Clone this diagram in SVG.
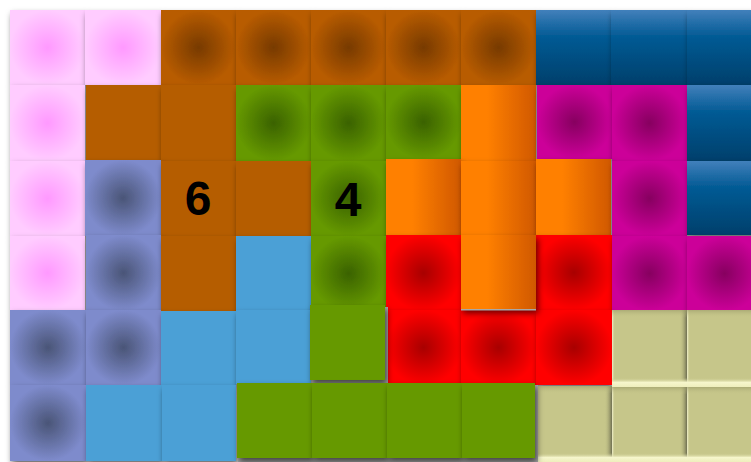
<svg xmlns="http://www.w3.org/2000/svg" width="751" height="462" viewBox="0 0 751 462">
<defs>
<radialGradient id="gPink"><stop offset="0" stop-color="#ff99ff"/><stop offset="1" stop-color="#ffccff"/></radialGradient>
<radialGradient id="gBrown"><stop offset="0" stop-color="#773a00"/><stop offset="1" stop-color="#b85c00"/></radialGradient>
<radialGradient id="gGreen"><stop offset="0" stop-color="#3a6200"/><stop offset="1" stop-color="#669900"/></radialGradient>
<radialGradient id="gMag"><stop offset="0" stop-color="#870060"/><stop offset="1" stop-color="#cc0099"/></radialGradient>
<radialGradient id="gSlate"><stop offset="0" stop-color="#4a5577"/><stop offset="1" stop-color="#7e8bcc"/></radialGradient>
<radialGradient id="gRed"><stop offset="0" stop-color="#a80000"/><stop offset="1" stop-color="#ff0000"/></radialGradient>
<linearGradient id="gBlue" x1="0" y1="0" x2="0" y2="1"><stop offset="0" stop-color="#4280bb"/><stop offset="0.35" stop-color="#035b95"/><stop offset="1" stop-color="#003f6b"/></linearGradient>
<linearGradient id="gOrange" x1="0" y1="0" x2="1" y2="0"><stop offset="0" stop-color="#ff8000"/><stop offset="0.35" stop-color="#ff8000"/><stop offset="1" stop-color="#d05800"/></linearGradient>
<linearGradient id="kSide" x1="0" y1="0" x2="1" y2="0"><stop offset="0" stop-color="#f4f4d0"/><stop offset="0.04" stop-color="#c6c68a" stop-opacity="0"/><stop offset="0.9" stop-color="#c6c68a" stop-opacity="0"/><stop offset="1" stop-color="#6e6e50"/></linearGradient>
<linearGradient id="kVert" x1="0" y1="0" x2="0" y2="1"><stop offset="0" stop-color="#9a9a68" stop-opacity="0.6"/><stop offset="0.1" stop-color="#c6c68a" stop-opacity="0"/><stop offset="0.88" stop-color="#c6c68a" stop-opacity="0"/><stop offset="0.94" stop-color="#f6f6cc"/><stop offset="1" stop-color="#eeeebc"/></linearGradient>
<filter id="sh" x="-20%" y="-20%" width="150%" height="150%"><feDropShadow dx="2" dy="4" stdDeviation="3" flood-color="#000" flood-opacity="0.6"/></filter>
</defs>
<style>
.c{filter:url(#sh)}
.pink{fill:url(#gPink)}
.brR{fill:url(#gBrown)}
.br{fill:#b55d05}
.grR{fill:url(#gGreen)}
.gr{fill:#669900}
.mag{fill:url(#gMag)}
.sl{fill:url(#gSlate)}
.red{fill:url(#gRed)}
.blue{fill:url(#gBlue)}
.or{fill:url(#gOrange)}
.lb{fill:#4ba0d6}
.kh{fill:#c6c68a}
.gray{fill:#a8a8a8}
.num{font-family:"Liberation Sans",Arial,sans-serif;font-weight:bold;font-size:48px;fill:#000;text-anchor:middle}
</style>
<rect width="751" height="462" fill="#fff"/>
<g id="row0">
<rect class="c pink" x="10" y="10" width="75" height="75"/>
<rect class="c pink" x="85" y="10" width="76" height="75"/>
<rect class="c brR" x="161" y="10" width="75" height="75"/>
<rect class="c brR" x="236" y="10" width="75" height="75"/>
<rect class="c brR" x="311" y="10" width="75" height="75"/>
<rect class="c brR" x="386" y="10" width="75" height="75"/>
<rect class="c brR" x="461" y="10" width="75" height="75"/>
<rect class="c blue" x="536" y="10" width="75" height="75"/>
<rect class="c blue" x="611" y="10" width="76" height="75"/>
<rect class="c blue" x="687" y="10" width="75" height="75"/>
</g>
<g id="row1">
<rect class="c pink" x="10" y="85" width="75" height="76"/>
<rect class="c br" x="86" y="85" width="75" height="76"/>
<rect class="c br" x="161" y="85" width="75" height="76"/>
<rect class="c grR" x="236" y="85" width="75" height="76"/>
<rect class="c grR" x="311" y="85" width="75" height="76"/>
<rect class="c grR" x="386" y="85" width="75" height="74"/>
<rect class="c or" x="461" y="85" width="75" height="76"/>
<rect class="c mag" x="537" y="85" width="75" height="74"/>
<rect class="c mag" x="612" y="85" width="75" height="76"/>
<rect class="c blue" x="687" y="85" width="75" height="76"/>
</g>
<g id="row2">
<rect class="c pink" x="10" y="161" width="75" height="75"/>
<rect class="c sl" x="85" y="160" width="76" height="76"/>
<rect class="c br" x="161" y="161" width="75" height="75"/>
<rect class="c br" x="236" y="161" width="75" height="75"/>
<rect class="c grR" x="311" y="161" width="75" height="75"/>
<rect class="c or" x="386" y="159" width="75" height="76"/>
<rect class="c or" x="461" y="161" width="75" height="75"/>
<rect class="c or" x="536" y="159" width="75" height="76"/>
<rect class="c mag" x="612" y="161" width="75" height="75"/>
<rect class="c blue" x="687" y="161" width="75" height="74"/>
</g>
<g id="row3">
<rect class="c pink" x="10" y="236" width="75" height="74"/>
<rect class="c sl" x="86" y="235" width="75" height="76"/>
<rect class="c br" x="161" y="236" width="75" height="75"/>
<rect class="c lb" x="236" y="236" width="75" height="75"/>
<rect class="c grR" x="311" y="236" width="75" height="75"/>
<rect class="c red" x="386" y="235" width="75" height="76"/>
<rect class="c red" x="536" y="235" width="76" height="75"/>
<rect class="c mag" x="612" y="236" width="75" height="75"/>
<rect class="c mag" x="687" y="236" width="75" height="75"/>
</g>
<g id="row4">
<rect class="c sl" x="10" y="310" width="76" height="75"/>
<rect class="c sl" x="86" y="310" width="75" height="75"/>
<rect class="c lb" x="161" y="311" width="75" height="75"/>
<rect class="c lb" x="236" y="310" width="75" height="74"/>
<rect class="c red" x="386" y="310" width="75" height="75"/>
<rect class="c red" x="461" y="310" width="75" height="75"/>
<rect class="c red" x="536" y="310" width="76" height="75"/>
<rect class="c or" x="461" y="235" width="75" height="74"/>
<rect class="gray" x="461" y="309" width="75" height="1.5"/>
</g>
<g id="row5">
<rect class="c sl" x="10" y="385" width="76" height="76"/>
<rect class="c lb" x="86" y="385" width="76" height="76"/>
<rect class="c lb" x="162" y="385" width="74" height="76"/>
</g>
<g id="khaki">
<rect class="kh" x="612" y="310" width="75" height="77"/>
<rect fill="url(#kSide)" x="612" y="310" width="75" height="77"/>
<rect fill="url(#kVert)" x="612" y="310" width="75" height="77"/>
<rect class="kh" x="687" y="310" width="75" height="77"/>
<rect fill="url(#kSide)" x="687" y="310" width="75" height="77"/>
<rect fill="url(#kVert)" x="687" y="310" width="75" height="77"/>
<rect class="kh" x="536" y="386" width="76" height="76"/>
<rect fill="url(#kSide)" x="536" y="386" width="76" height="76"/>
<rect fill="url(#kVert)" x="536" y="386" width="76" height="76"/>
<rect class="kh" x="612" y="387" width="75" height="75"/>
<rect fill="url(#kSide)" x="612" y="387" width="75" height="75"/>
<rect fill="url(#kVert)" x="612" y="387" width="75" height="75"/>
<rect class="kh" x="687" y="387" width="75" height="75"/>
<rect fill="url(#kSide)" x="687" y="387" width="75" height="75"/>
<rect fill="url(#kVert)" x="687" y="387" width="75" height="75"/>
</g>
<g id="greenFlat">
<rect class="gray" x="312" y="307" width="76" height="76"/>
<rect class="gray" x="238" y="385" width="300" height="77"/>
<rect class="c gr" x="310" y="305" width="75" height="75"/>
<rect class="c gr" x="237" y="383" width="75" height="75"/>
<rect class="c gr" x="312" y="383" width="75" height="75"/>
<rect class="c gr" x="387" y="383" width="75" height="75"/>
<rect class="c gr" x="462" y="383" width="73" height="75"/>
</g>
<g id="labels">
<text class="num" x="198" y="215">6</text>
<text class="num" x="348" y="216">4</text>
</g>
</svg>
